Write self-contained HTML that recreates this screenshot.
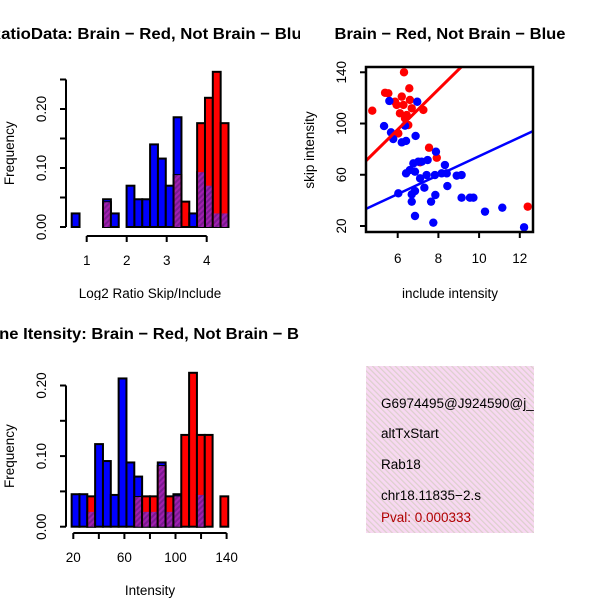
<!DOCTYPE html>
<html><head><meta charset="utf-8"><style>
html,body{margin:0;padding:0;background:#fff}
svg text{font-family:"Liberation Sans",sans-serif}
</style></head><body>
<svg id="chart" width="600" height="600" viewBox="0 0 600 600" xmlns="http://www.w3.org/2000/svg">
<defs>
<clipPath id="c1"><rect x="0" y="0" width="300" height="300"/></clipPath>
<clipPath id="c3"><rect x="0" y="300" width="300" height="300"/></clipPath>
<clipPath id="c4"><rect x="366" y="366" width="168" height="167"/></clipPath>
<clipPath id="cs"><rect x="366" y="67" width="167" height="165"/></clipPath>
<pattern id="hatch" width="4" height="4" patternUnits="userSpaceOnUse" patternTransform="rotate(45)">
<rect width="4" height="4" fill="#a020b0"/><rect width="2" height="4" fill="#7a1a90"/></pattern>
<pattern id="pink" width="4" height="4" patternUnits="userSpaceOnUse" patternTransform="rotate(-45)">
<rect width="4" height="4" fill="#f8d8f2"/><rect width="1.2" height="4" fill="#dcd0cc"/></pattern>
</defs>
<g id="p1"></g>
<g id="p2"></g>
<g id="p3"></g>
<g id="p4" clip-path="url(#c4)">
<rect x="366" y="366" width="168" height="167" fill="url(#pink)"/>
<text x="381" y="408" font-size="13.5">G6974495@J924590@j_</text>
<text x="381" y="438" font-size="13.5">altTxStart</text>
<text x="381" y="469" font-size="13.5">Rab18</text>
<text x="381" y="500" font-size="13.5">chr18.11835−2.s</text>
<text x="381" y="522" font-size="13.5" fill="#b00000">Pval: 0.000333</text>
</g>
</svg>
<script>
// ---- Histogram 1 (Log2 ratio) ----
const h1Start = 0.625;
const h1BinW = 0.196;
const h1Blue = [0.023,0,0,0,0.047,0.023,0,0.07,0.047,0.047,0.14,0.116,0.07,0.186,0,0.023,0.093,0.07,0.023,0.023];
const h1Red  = [0,0,0,0,0.042,0,0,0,0,0,0,0,0,0.088,0.043,0,0.176,0.219,0.263,0.176];
const h1XTicks = [1,2,3,4];
const h1YTicks = [0,0.05,0.10,0.15,0.20,0.25];
const h1YLabels = ["0.00","","0.10","","0.20",""];
// ---- Histogram 2 (Intensity) ----
const h2Start = 18.7;
const h2BinW = 6.13;
const h2Blue = [0.046,0.046,0.021,0.117,0.093,0.045,0.21,0.091,0.071,0.021,0.021,0.091,0.021,0.046,0,0,0.045,0,0,0];
const h2Red  = [0,0,0.043,0,0,0,0,0,0.042,0.043,0.043,0.086,0.043,0.043,0.13,0.218,0.13,0.13,0,0.043];
const h2XTicks = [20,40,60,80,100,120,140];
const h2XLabels = ["20","","60","","100","","140"];
const h2YTicks = [0,0.05,0.10,0.15,0.20];
const h2YLabels = ["0.00","","0.10","","0.20"];
// ---- Scatter ----
const redPts = [[4.75,110],[6.31,140],[5.38,124],[5.54,123.6],[6.57,127.5],[6.2,121],[5.95,114.5],[6.6,118.4],[6.11,108],[6.44,106.6],[6.69,111.9],[7.26,110.6],[6.36,104],[6.52,98.8],[6.03,92.3],[7.54,81.1],[7.92,73.3],[7.1,69.7],[12.39,35.1],[5.87,117],[6.28,114.5]];
const bluePts = [[5.59,117.6],[6.96,117],[5.33,98],[5.67,93.1],[5.78,87.9],[6.2,85.3],[6.41,86.4],[6.88,90.3],[6.36,98.3],[7.88,78],[7.47,71.5],[6.77,68.9],[7.01,70.2],[7.18,70.2],[6.6,63.7],[6.41,61.1],[6.85,62.4],[7.1,57.2],[7.42,59.8],[7.83,59.8],[8.16,61.1],[8.32,67.6],[8.41,61.1],[8.9,59.3],[9.14,59.8],[6.03,45.5],[6.69,44.7],[6.85,47.3],[7.31,49.9],[6.69,39],[7.64,39],[7.85,44.2],[8.44,51.2],[9.14,42.1],[9.55,42.1],[9.72,42.1],[10.29,31.2],[11.14,34.3],[6.85,27.8],[7.75,22.6],[12.21,19]];
const blueFit = [0.5, 7.4];
const redFit = [1.4, 15.65];
const sXTicks = [6,8,10,12];
const sYTicks = [20,60,100,140];

const NS="http://www.w3.org/2000/svg";
const FS=13.5;
function mk(parent,tag,attrs,txt){const e=document.createElementNS(NS,tag);for(const k in attrs)e.setAttribute(k,attrs[k]);if(txt!==undefined)e.textContent=txt;parent.appendChild(e);return e;}

function drawHist(g,clip,o){
  const gg=mk(g,'g',{'clip-path':'url(#'+clip+')'});
  const X=v=>o.x0+(v-o.xv0)*o.kx, Y=v=>o.y0-v*o.ky;
  for(let i=0;i<o.blue.length;i++){
    const xa=X(o.start+i*o.bw), w=o.bw*o.kx, b=o.blue[i], r=o.red[i];
    if(b>0){const e=mk(gg,'rect',{x:xa,y:Y(b),width:w,height:b*o.ky,fill:'#0000ff',stroke:'#000','stroke-width':2});
      }
    if(r>0){const e=mk(gg,'rect',{x:xa,y:Y(r),width:w,height:r*o.ky,fill:'#ff0000',stroke:'#000','stroke-width':2});
      }
    const m=Math.min(b,r);
    if(m>0){const e=mk(gg,'rect',{x:xa+1,y:Y(m),width:w-2,height:m*o.ky,fill:'url(#hatch)',stroke:'none'});
      }
  }
  const ya=mk(gg,'g',{});
  
  mk(ya,'line',{x1:o.ax,x2:o.ax,y1:Y(o.yt[0]),y2:Y(o.yt[o.yt.length-1]),stroke:'#000','stroke-width':2});
  o.yt.forEach((t,i)=>{mk(ya,'line',{x1:o.ax-6,x2:o.ax,y1:Y(t),y2:Y(t),stroke:'#000','stroke-width':2});
    if(o.yl[i]){const tx=mk(ya,'text',{x:0,y:0,'font-size':FS,'text-anchor':'middle',transform:'translate('+(o.ax-20)+','+Y(t)+') rotate(-90)'},o.yl[i]);
      }});
  const xa=mk(gg,'g',{});
  
  mk(xa,'line',{x1:X(o.xt[0]),x2:X(o.xt[o.xt.length-1]),y1:o.ay,y2:o.ay,stroke:'#000','stroke-width':2});
  o.xt.forEach((t,i)=>{mk(xa,'line',{x1:X(t),x2:X(t),y1:o.ay,y2:o.ay+6,stroke:'#000','stroke-width':2});
    if(o.xl[i]){const tx=mk(xa,'text',{x:X(t),y:o.ay+29,'font-size':FS,'text-anchor':'middle'},o.xl[i]);
      }});
  const xt=mk(gg,'text',{x:150,y:o.ay+62,'font-size':FS,'text-anchor':'middle'},o.xtitle);
  
  const yt=mk(gg,'text',{x:0,y:0,'font-size':FS,'text-anchor':'middle',transform:'translate(14,'+(o.y0-o.yt[o.yt.length-1]*o.ky/2)+') rotate(-90)'},'Frequency');
  
  const ti=mk(gg,'text',{x:150,y:o.ty,'font-size':16,'font-weight':'bold','text-anchor':'middle',textLength:o.tlen,lengthAdjust:'spacingAndGlyphs'},o.title);
  
}
drawHist(document.getElementById('p1'),'c1',{start:h1Start,bw:h1BinW,blue:h1Blue,red:h1Red,x0:86.7,xv0:1,kx:40,y0:227,ky:590,
  ax:66,ay:236,yt:h1YTicks,yl:h1YLabels,xt:h1XTicks,xl:h1XTicks.map(String),xtitle:'Log2 Ratio Skip/Include',
  title:'RatioData: Brain − Red, Not Brain − Blue',ty:39,tlen:322});
drawHist(document.getElementById('p3'),'c3',{start:h2Start,bw:h2BinW,blue:h2Blue,red:h2Red,x0:73.3,xv0:20,kx:1.2775,y0:526.7,ky:706,
  ax:66,ay:533,yt:h2YTicks,yl:h2YLabels,xt:h2XTicks,xl:h2XLabels,xtitle:'Intensity',
  title:'Gene Itensity: Brain − Red, Not Brain − Blue',ty:339,tlen:346});

(function(){
  const g=document.getElementById('p2');
  const X=v=>397.7+(v-6)*20.35, Y=v=>226-(v-20)*1.281;
  const ti=mk(g,'text',{x:450,y:39,'font-size':16,'font-weight':'bold','text-anchor':'middle',textLength:231,lengthAdjust:'spacingAndGlyphs'},'Brain − Red, Not Brain − Blue');
  
  const gp=mk(g,'g',{'clip-path':'url(#cs)'});
  redPts.forEach(p=>{const c=mk(gp,'circle',{cx:X(p[0]),cy:Y(p[1]),r:4.2,fill:'#ff0000'});
    });
  bluePts.forEach(p=>{const c=mk(gp,'circle',{cx:X(p[0]),cy:Y(p[1]),r:4.2,fill:'#0000ff'});
    });
  const x1=4.0,x2=13;
  const bl=mk(gp,'line',{x1:X(x1),y1:Y(blueFit[0]+blueFit[1]*x1),x2:X(x2),y2:Y(blueFit[0]+blueFit[1]*x2),stroke:'#0000ff','stroke-width':2.5});
  
  const rl=mk(gp,'line',{x1:X(x1),y1:Y(redFit[0]+redFit[1]*x1),x2:X(x2),y2:Y(redFit[0]+redFit[1]*x2),stroke:'#ff0000','stroke-width':3});
  
  const fr=mk(g,'rect',{x:366,y:67,width:167,height:165,fill:'none',stroke:'#000','stroke-width':2.5});
  
  sXTicks.forEach(t=>{mk(g,'line',{x1:X(t),x2:X(t),y1:232,y2:238,stroke:'#000','stroke-width':2});});
  sYTicks.forEach(t=>{mk(g,'line',{x1:360,x2:366,y1:Y(t),y2:Y(t),stroke:'#000','stroke-width':2});
    const tx=mk(g,'text',{x:0,y:0,'font-size':FS,'text-anchor':'middle',transform:'translate(346,'+Y(t)+') rotate(-90)'},String(t));
    });
  sXTicks.forEach(t=>{const tx=mk(g,'text',{x:X(t),y:263,'font-size':FS,'text-anchor':'middle'},String(t));
    });
  const xt=mk(g,'text',{x:450,y:298,'font-size':FS,'text-anchor':'middle'},'include intensity');
  
  const yt=mk(g,'text',{x:0,y:0,'font-size':FS,'text-anchor':'middle',transform:'translate(314,150) rotate(-90)'},'skip intensity');
  
})();
</script>
</body></html>
